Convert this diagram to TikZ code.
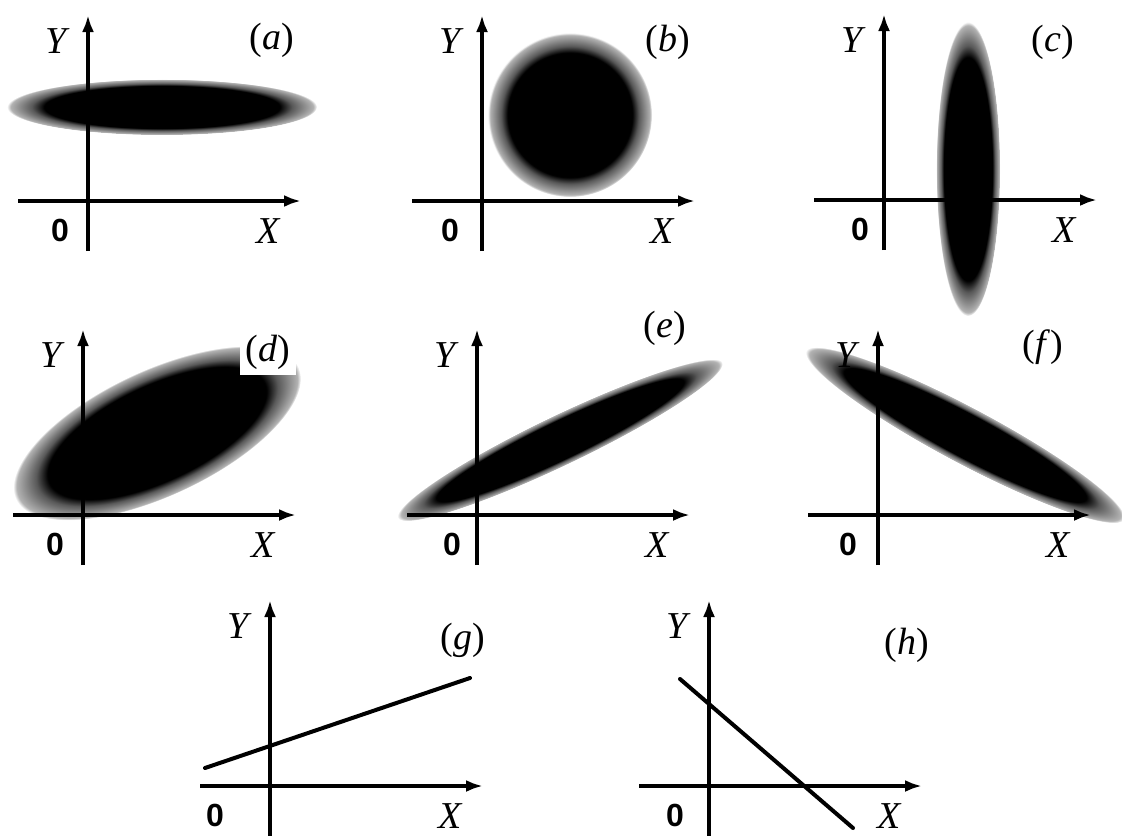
\documentclass[tikz,border=0pt]{standalone}
\usepackage{fontspec}
\setmainfont{Liberation Serif}
\newfontfamily\zerofont{Liberation Sans}
\usetikzlibrary{arrows.meta, positioning}

% soft-edged blob: solid core, grey fringe
\pgfdeclareradialshading{blob}{\pgfpointorigin}{color(0bp)=(black); color(19bp)=(black); color(21bp)=(black!65); color(24.4bp)=(black!30); color(25bp)=(white); color(50bp)=(white)}

\begin{document}
\begin{tikzpicture}[x=0.5pt, y=-0.5pt,
    axis/.style={line width=1.7pt, -{Latex[length=8.5pt,width=6pt]}},
    varlabel/.style={font=\fontsize{19}{22}\selectfont\itshape, inner sep=0pt},
    zerolabel/.style={font=\zerofont\bfseries\fontsize{16}{19}\selectfont, inner sep=0pt},
    panel/.style={font=\fontsize{19}{22}\selectfont, inner sep=1pt},
    boxed/.style={panel, fill=white, inner sep=3pt},
    cloud/.style={shading=blob},
    trend/.style={line width=2pt, line cap=round}
]
\useasboundingbox (0,0) rectangle (1122,835);

% Row 1: clouds (a)--(c)
\shade[cloud] (162,107) ellipse (77.5pt and 14pt);
\shade[cloud] (570,115) circle (41pt);
\shade[cloud] (968,169) ellipse (16pt and 73.5pt);

% Row 2: tilted clouds (d)--(f)
\begin{scope}[transform canvas={shift={(157,433)}, rotate=25}]
  \shade[cloud] (0,0) ellipse (78pt and 31.5pt);
\end{scope}
\begin{scope}[transform canvas={shift={(560,440)}, rotate=25.6}]
  \shade[cloud] (0,0) ellipse (90pt and 12.5pt);
\end{scope}
\begin{scope}[transform canvas={shift={(965,435)}, rotate=-28}]
  \shade[cloud] (0,0) ellipse (90pt and 14pt);
\end{scope}

% Row 3: straight lines (g), (h)
\coordinate (g1) at (205,768);
\coordinate (g2) at (470,678);
\draw[trend] (g1) -- (g2);
\coordinate (h1) at (680,679);
\coordinate (h2) at (853,828);
\draw[trend] (h1) -- (h2);

% Axes of all eight panels
\foreach \n/\ox/\oy/\zx in {a/88/201/-28, b/482/201/-32, c/884/200/-24,
                            d/83/515/-28, e/477/515/-25, f/878/515/-30,
                            g/270/786/-55, h/709/786/-34}{
  \begin{scope}[shift={(\ox,\oy)}]
    \coordinate (xl\n) at (-70,0);
    \coordinate (xr\n) at (213,0);
    \coordinate (yb\n) at (0,50);
    \coordinate (yt\n) at (0,-186);
    \draw[axis] (xl\n) -- (xr\n);
    \draw[axis] (yb\n) -- (yt\n);
    \node[varlabel] (Y\n) at (-32,-160) {Y};
    \node[varlabel] (X\n) at (180,30) {X};
    \node[zerolabel] (O\n) at (\zx,29) {0};
  \end{scope}
}

% Panel letters
\node[panel] (pa) at (272,40) {(\textit{a})};
\node[panel] (pb) at (668,42) {(\textit{b})};
\node[panel] (pc) at (1053,42) {(\textit{c})};
\node[boxed] (pd) at (268,352) {(\textit{d})};
\node[boxed] (pe) at (665,328) {(\textit{e})};
\node[panel] (pf) at (1043,347) {(\textit{f})};
\node[boxed] (pg) at (463,640) {(\textit{g})};
\node[panel] (ph) at (907,645) {(\textit{h})};

\end{tikzpicture}
\end{document}
